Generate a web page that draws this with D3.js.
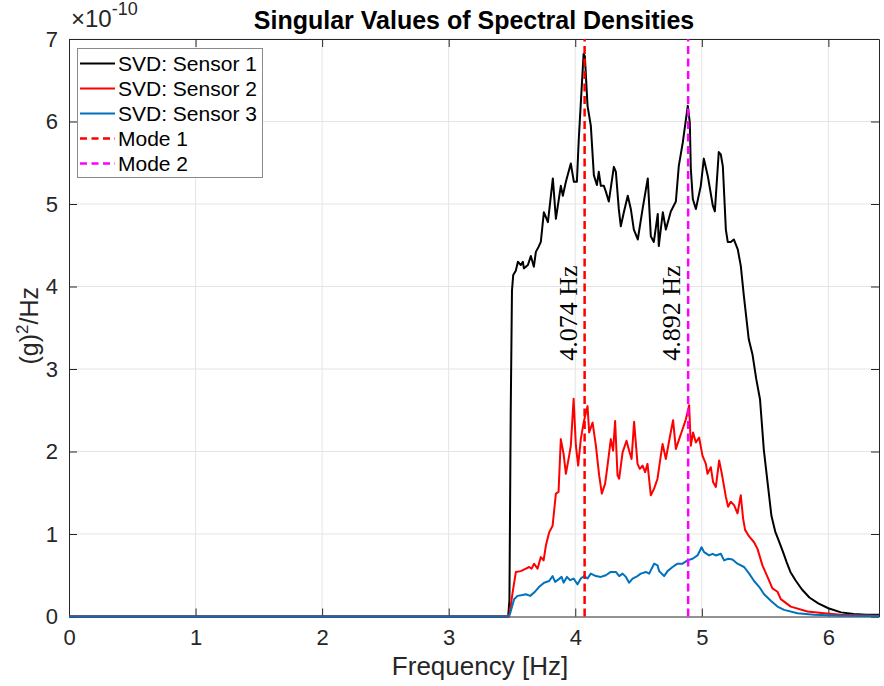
<!DOCTYPE html>
<html>
<head>
<meta charset="utf-8">
<script src="https://cdn.jsdelivr.net/npm/d3@7"></script>
<style>
  body { margin: 0; background: #fff; }
  text { font-family: "Liberation Sans", Arial, Helvetica, sans-serif; }
</style>
</head>
<body>
<svg id="chart" width="884" height="686"></svg>
<script>
// Spectral density singular values, in units of 1e-10 (g)^2/Hz
const freqS1 = [0,3.47,3.48,3.49,3.50,3.51,3.53,3.547,3.57,3.586,3.594,3.626,3.649,3.673,3.689,3.71,3.728,3.752,3.784,3.823,3.847,3.886,3.902,3.926,3.965,3.989,4.013,4.028,4.066,4.076,4.097,4.123,4.147,4.171,4.186,4.202,4.226,4.242,4.265,4.305,4.321,4.344,4.360,4.384,4.415,4.439,4.463,4.494,4.534,4.573,4.597,4.621,4.652,4.660,4.692,4.716,4.755,4.795,4.818,4.850,4.889,4.905,4.913,4.929,4.953,4.992,5.016,5.047,5.055,5.087,5.103,5.134,5.150,5.166,5.190,5.205,5.229,5.253,5.284,5.308,5.332,5.371,5.40,5.43,5.46,5.49,5.52,5.55,5.58,5.61,5.64,5.67,5.70,5.74,5.79,5.85,5.92,6.00,6.10,6.20,6.30,6.40];
const psdS1 = [0,0,0.2,2.45,3.95,4.14,4.19,4.30,4.26,4.30,4.22,4.26,4.37,4.24,4.42,4.48,4.54,4.90,4.78,5.31,4.82,5.22,5.10,5.27,5.49,5.27,5.27,5.79,6.82,6.79,6.19,5.95,5.35,5.23,5.39,5.22,5.22,5.15,5.03,5.45,5.39,4.94,4.73,4.90,5.10,4.94,4.69,4.57,4.96,5.31,4.61,4.54,4.88,4.49,4.90,4.69,4.91,5.03,5.46,5.75,6.19,5.99,5.43,5.06,4.94,5.22,5.55,5.34,5.27,4.98,4.91,5.63,5.60,5.46,4.69,4.54,4.54,4.57,4.45,4.25,3.89,3.36,3.18,2.88,2.63,2.02,1.62,1.22,1.03,0.91,0.79,0.66,0.54,0.44,0.33,0.23,0.16,0.10,0.05,0.03,0.02,0.02];

const freqS2 = [0,3.47,3.478,3.505,3.531,3.570,3.610,3.636,3.655,3.675,3.702,3.728,3.750,3.768,3.794,3.821,3.847,3.868,3.886,3.908,3.926,3.952,3.965,3.987,4.005,4.023,4.044,4.066,4.084,4.097,4.110,4.137,4.163,4.189,4.210,4.236,4.255,4.281,4.299,4.315,4.334,4.347,4.374,4.405,4.426,4.445,4.465,4.492,4.510,4.532,4.552,4.571,4.597,4.623,4.650,4.676,4.690,4.716,4.742,4.773,4.795,4.821,4.848,4.874,4.900,4.913,4.931,4.953,4.979,5.005,5.032,5.045,5.071,5.089,5.111,5.137,5.156,5.190,5.208,5.229,5.255,5.282,5.308,5.326,5.342,5.374,5.413,5.440,5.479,5.519,5.558,5.598,5.624,5.703,5.835,5.966,6.098,6.230,6.40];
const psdS2 = [0,0,0,0.29,0.54,0.55,0.58,0.60,0.58,0.64,0.58,0.72,0.68,0.86,1.02,1.10,1.49,1.51,2.15,1.97,1.73,1.95,2.07,2.64,2.07,1.83,2.15,2.35,2.47,2.55,2.23,2.35,2.07,1.71,1.49,1.61,1.83,2.15,2.01,2.37,1.71,1.67,1.99,2.13,2.01,1.91,2.36,1.85,1.79,1.83,1.75,1.85,1.47,1.55,1.67,1.95,2.09,1.91,2.13,2.38,2.03,2.15,2.27,2.39,2.56,2.07,2.23,2.11,2.17,1.95,1.85,1.73,1.81,1.63,1.57,1.89,1.75,1.45,1.33,1.39,1.35,1.25,1.47,1.19,1.05,0.97,0.90,0.82,0.62,0.48,0.34,0.30,0.21,0.12,0.06,0.04,0.02,0.015,0.01];

const freqS3 = [0,3.47,3.486,3.517,3.544,3.584,3.610,3.644,3.675,3.715,3.754,3.794,3.821,3.841,3.868,3.892,3.908,3.934,3.960,3.987,4.018,4.044,4.070,4.097,4.123,4.163,4.202,4.242,4.281,4.321,4.347,4.374,4.400,4.426,4.453,4.492,4.518,4.558,4.584,4.623,4.650,4.663,4.702,4.729,4.769,4.808,4.848,4.887,4.927,4.966,4.998,5.018,5.058,5.085,5.111,5.150,5.176,5.208,5.242,5.282,5.334,5.374,5.413,5.453,5.492,5.545,5.598,5.650,5.756,5.887,6.098,6.40];
const psdS3 = [0,0,0.04,0.21,0.25,0.26,0.27,0.25,0.29,0.36,0.41,0.43,0.49,0.42,0.45,0.48,0.41,0.48,0.44,0.46,0.39,0.46,0.49,0.46,0.52,0.49,0.48,0.50,0.54,0.54,0.49,0.52,0.48,0.41,0.46,0.49,0.52,0.54,0.52,0.64,0.62,0.55,0.49,0.55,0.60,0.64,0.64,0.68,0.70,0.74,0.84,0.78,0.74,0.76,0.74,0.76,0.68,0.70,0.69,0.64,0.60,0.52,0.43,0.36,0.27,0.19,0.12,0.08,0.04,0.02,0.01,0.005];

const seriesNames = ["SVD: Sensor 1", "SVD: Sensor 2", "SVD: Sensor 3"];
const seriesColors = ["#000000", "#ff0000", "#0072bd"];
const modeFreqs = [4.074, 4.892];
const modeNames = ["Mode 1", "Mode 2"];
const modeColors = ["#ff0000", "#ff00ff"];
const xTicks = [0, 1, 2, 3, 4, 5, 6];
const yTicks = [0, 1, 2, 3, 4, 5, 6, 7];

const zip = (f, v) => f.map((d, i) => [d, v[i]]);
const series = [zip(freqS1, psdS1), zip(freqS2, psdS2), zip(freqS3, psdS3)];

const svg = d3.select("#chart");
const x = d3.scaleLinear().domain([0, 6.4]).range([69, 879]);
const y = d3.scaleLinear().domain([0, 7]).range([616.5, 39]);
const [x0, x1] = x.range();
const [y0, y1] = y.range();

// grid
const grid = svg.append("g").attr("stroke", "#e4e4e4").attr("stroke-width", 1);
grid.selectAll(".gx").data(xTicks.slice(1)).join("line")
  .attr("x1", d => x(d)).attr("x2", d => x(d)).attr("y1", y0).attr("y2", y1);
grid.selectAll(".gy").data(yTicks.slice(1)).join("line")
  .attr("x1", x0).attr("x2", x1).attr("y1", d => y(d)).attr("y2", d => y(d));

// axes (ticks pointing inward, box on all sides)
const tickLen = 8;
const axisColor = "#262626";
function styleAxis(g, showText) {
  g.select(".domain").attr("stroke", axisColor).attr("stroke-width", 1);
  g.selectAll(".tick line").attr("stroke", axisColor).attr("stroke-width", 1);
  g.selectAll(".tick text").attr("fill", "#262626").style("font-size", "22px")
    .style("font-family", '"Liberation Sans", Arial, sans-serif');
  if (!showText) g.selectAll(".tick text").remove();
}
svg.append("g").attr("transform", `translate(0,${y0})`)
  .call(d3.axisBottom(x).tickValues(xTicks).tickFormat(d3.format("d")).tickSizeInner(-tickLen).tickSizeOuter(0).tickPadding(13))
  .call(g => styleAxis(g, true));
svg.append("g").attr("transform", `translate(0,${y1})`)
  .call(d3.axisTop(x).tickValues(xTicks).tickSizeInner(-tickLen).tickSizeOuter(0))
  .call(g => styleAxis(g, false));
svg.append("g").attr("transform", `translate(${x0},0)`)
  .call(d3.axisLeft(y).tickValues(yTicks).tickFormat(d3.format("d")).tickSizeInner(-tickLen).tickSizeOuter(0).tickPadding(11))
  .call(g => styleAxis(g, true));
svg.append("g").attr("transform", `translate(${x1},0)`)
  .call(d3.axisRight(y).tickValues(yTicks).tickSizeInner(-tickLen).tickSizeOuter(0))
  .call(g => styleAxis(g, false));

// curves
const line = d3.line().x(d => x(d[0])).y(d => y(d[1]));
svg.append("g").selectAll("path").data(series).join("path")
  .attr("d", line).attr("fill", "none")
  .attr("stroke", (d, i) => seriesColors[i])
  .attr("stroke-width", 2).attr("stroke-linejoin", "round");

// identified modes
svg.append("g").selectAll("line").data(modeFreqs).join("line")
  .attr("x1", d => x(d)).attr("x2", d => x(d))
  .attr("y1", y(0)).attr("y2", y(7))
  .attr("stroke", (d, i) => modeColors[i]).attr("stroke-width", 2.5)
  .attr("stroke-dasharray", "8,4.5");

svg.append("g").selectAll("text").data(modeFreqs).join("text")
  .attr("transform", d => `translate(${x(d) - 8},${y(3.1)}) rotate(-90)`)
  .style("font-family", '"Liberation Serif", "Times New Roman", serif')
  .style("font-size", "26px").attr("fill", "#000")
  .text(d => d.toFixed(3) + " Hz");

// title and labels
svg.append("text").attr("x", (x0 + x1) / 2).attr("y", 29)
  .attr("text-anchor", "middle").style("font-size", "25px").style("font-weight", "bold")
  .attr("fill", "#000").text("Singular Values of Spectral Densities");

svg.append("text").attr("x", (x0 + x1) / 2 + 6).attr("y", 675)
  .attr("text-anchor", "middle").style("font-size", "26px").attr("fill", "#262626")
  .text("Frequency [Hz]");

const yl = svg.append("text")
  .attr("transform", `translate(38,${(y0 + y1) / 2 - 2}) rotate(-90)`)
  .attr("text-anchor", "middle").style("font-size", "25px").attr("fill", "#262626");
yl.append("tspan").text("(g)");
yl.append("tspan").attr("dy", -10).style("font-size", "17px").text("2");
yl.append("tspan").attr("dy", 10).text("/Hz");

// exponent
const ex = svg.append("text").attr("x", 71).attr("y", 27)
  .style("font-size", "24px").attr("fill", "#262626");
ex.append("tspan").text("\u00d710");
ex.append("tspan").attr("dy", -12).style("font-size", "18px").text("-10");

// legend
const legendItems = seriesNames.map((n, i) => ({ name: n, color: seriesColors[i], dash: null }))
  .concat(modeNames.map((n, i) => ({ name: n, color: modeColors[i], dash: "7,4.5" })));
const lg = svg.append("g");
lg.append("rect").attr("x", 77.5).attr("y", 48.5).attr("width", 185).attr("height", 129)
  .attr("fill", "#fff").attr("stroke", "#8a8a8a").attr("stroke-width", 1);
const rows = lg.selectAll("g").data(legendItems).join("g")
  .attr("transform", (d, i) => `translate(0,${63.5 + i * 25})`);
rows.append("line").attr("x1", 80).attr("x2", 115).attr("y1", 0).attr("y2", 0)
  .attr("stroke", d => d.color).attr("stroke-width", d => d.dash ? 2.5 : 2)
  .attr("stroke-dasharray", d => d.dash);
rows.append("text").attr("x", 118).attr("dy", "0.35em")
  .style("font-size", "21px").attr("fill", "#000").text(d => d.name);
</script>
</body>
</html>
